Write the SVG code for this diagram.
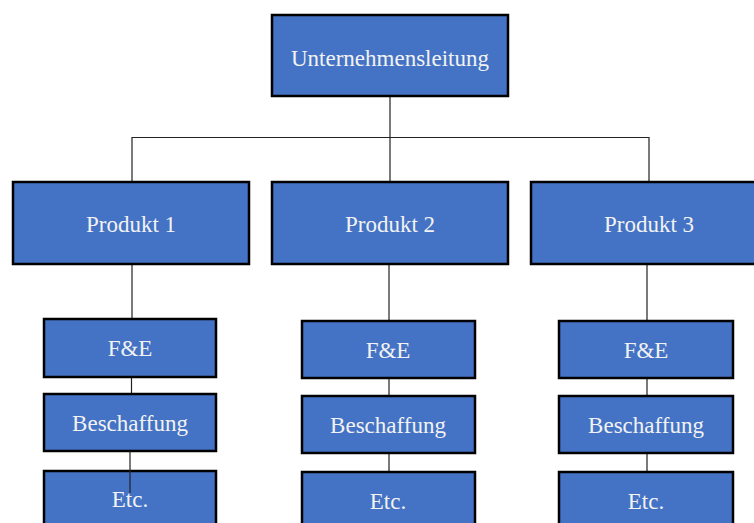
<svg xmlns="http://www.w3.org/2000/svg" width="754" height="523" viewBox="0 0 754 523">
  <style>
    .box { fill: #4472C4; stroke: #000000; stroke-width: 2.5; }
    .lbl { font-family: "Liberation Serif", "Times New Roman", serif; font-size: 23px; fill: #F2F2F2; text-anchor: middle; }
    .ln { stroke: #222222; stroke-width: 1.2; fill: none; }
  </style>
  <rect width="754" height="523" fill="#FFFFFF"/>

  <!-- tree connectors (drawn under the boxes) -->
  <g id="connectors">
    <path class="ln" d="M390,96 V137.5 M132,182 V137.5 H649 V182 M390,137.5 V182"/>
    <path class="ln" d="M132,264 V319 M131.5,377 V394"/>
    <path class="ln" d="M389,264 V321 M389,378 V396 M389,452 V472"/>
    <path class="ln" d="M647,264 V321 M647,378 V396 M647,452 V472"/>
  </g>

  <g id="leitung">
    <rect class="box" x="272" y="15" width="236" height="81"/>
    <text class="lbl" x="390" y="66">Unternehmensleitung</text>
  </g>

  <g id="produkt1">
    <rect class="box" x="13" y="182" width="236" height="82"/>
    <text class="lbl" x="131" y="232">Produkt 1</text>
  </g>
  <g id="produkt2">
    <rect class="box" x="272" y="182" width="236" height="82"/>
    <text class="lbl" x="390" y="232">Produkt 2</text>
  </g>
  <g id="produkt3">
    <rect class="box" x="531" y="182" width="236" height="82"/>
    <text class="lbl" x="649" y="232">Produkt 3</text>
  </g>

  <!-- column 1 -->
  <g id="fe1">
    <rect class="box" x="44" y="319" width="172" height="58"/>
    <text class="lbl" x="130" y="356">F&amp;E</text>
  </g>
  <g id="beschaffung1">
    <rect class="box" x="44" y="394" width="172" height="57"/>
    <text class="lbl" x="130" y="431">Beschaffung</text>
  </g>
  <g id="etc1">
    <rect class="box" x="44" y="471" width="172" height="70"/>
    <text class="lbl" x="130" y="507">Etc.</text>
  </g>
  <!-- stub line over the Etc. box in column 1 -->
  <path class="ln" d="M130,451 V493"/>

  <!-- column 2 -->
  <g id="fe2">
    <rect class="box" x="302" y="321" width="173" height="57"/>
    <text class="lbl" x="388" y="358">F&amp;E</text>
  </g>
  <g id="beschaffung2">
    <rect class="box" x="302" y="396" width="173" height="57"/>
    <text class="lbl" x="388" y="433">Beschaffung</text>
  </g>
  <g id="etc2">
    <rect class="box" x="302" y="472" width="173" height="70"/>
    <text class="lbl" x="388" y="509">Etc.</text>
  </g>

  <!-- column 3 -->
  <g id="fe3">
    <rect class="box" x="559" y="321" width="174" height="57"/>
    <text class="lbl" x="646" y="358">F&amp;E</text>
  </g>
  <g id="beschaffung3">
    <rect class="box" x="559" y="396" width="174" height="57"/>
    <text class="lbl" x="646" y="433">Beschaffung</text>
  </g>
  <g id="etc3">
    <rect class="box" x="559" y="472" width="174" height="70"/>
    <text class="lbl" x="646" y="509">Etc.</text>
  </g>
</svg>
